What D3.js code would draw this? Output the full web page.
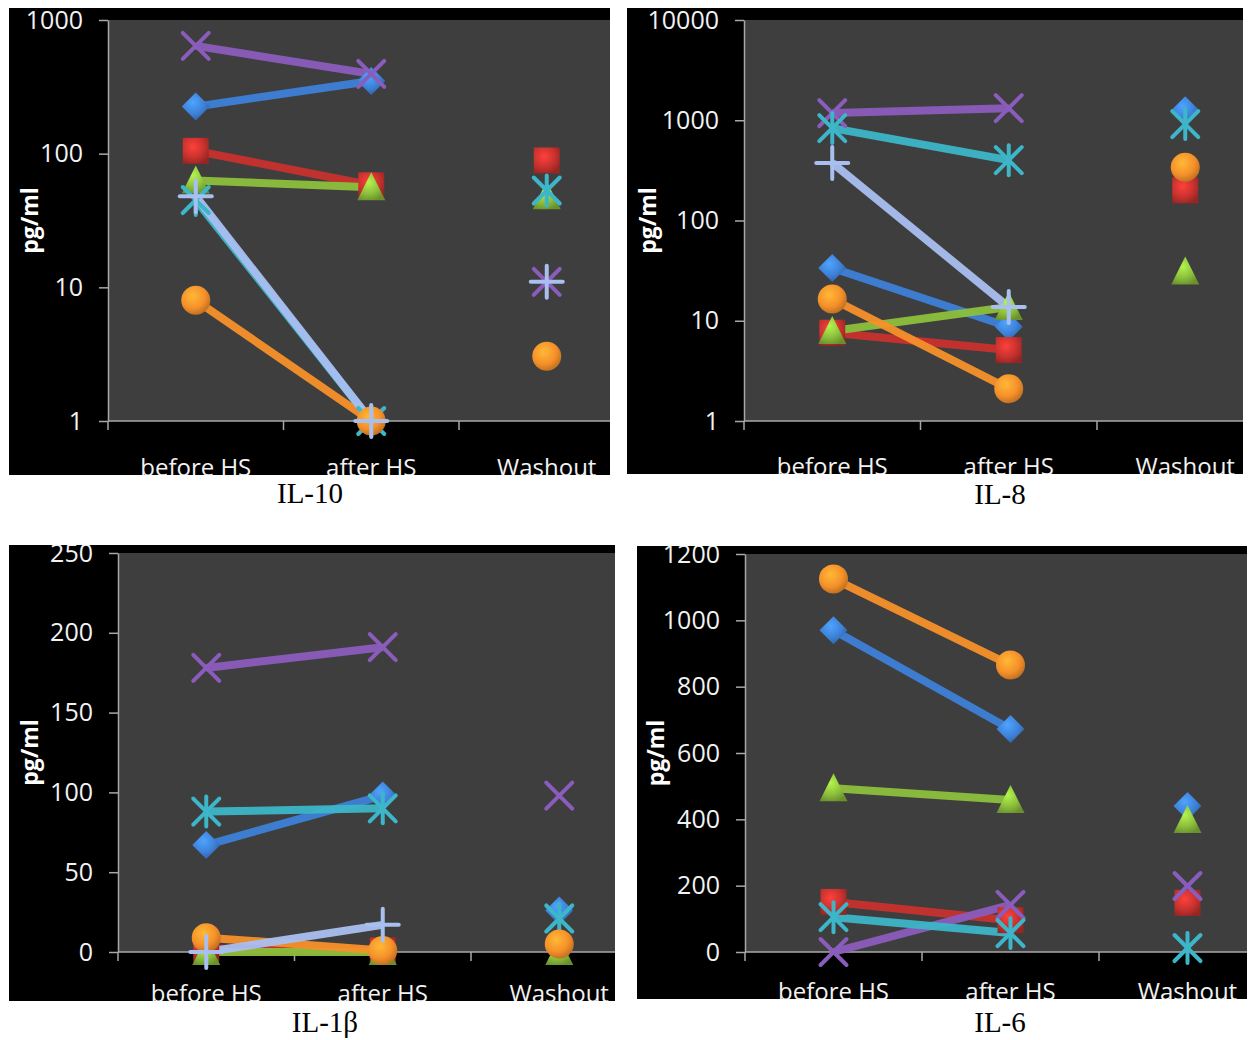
<!DOCTYPE html>
<html><head><meta charset="utf-8">
<script src="https://cdn.jsdelivr.net/npm/d3@7"></script>
<style>body{margin:0;background:#fff}svg{display:block}</style>
</head><body>
<svg id="c" width="1250" height="1040"></svg>
<script>
// ---------- data ----------
const categories = ["before HS", "after HS", "Washout"];
const markerTypes = ["diamond", "square", "triangle", "x", "star", "circle", "plus"];
const seriesColors = ["#3d80d6", "#c8322e", "#8cbf3c", "#8a5cbc", "#3cb6c8", "#f5902a", "#a9bff0"];

// series order: diamond, square, triangle, x, star, circle, plus
const il10Before  = [225, 105, 63, 640, 45, 8, 48];
const il10After   = [350, 58, 56, 395, 1, 1, 1];
const il10Washout = [null, 89, 48, 11, 53, 3.05, 11];
const il10Ticks   = [1, 10, 100, 1000];

const il8Before  = [33.6, 7.6, 7.9, 1180, 835, 16.5, 375];
const il8After   = [8.7, 5.1, 13.7, 1320, 400, 2.1, 13.7];
const il8Washout = [1260, 200, 31, null, 915, 340, null];
const il8Ticks   = [1, 10, 100, 1000, 10000];

const il1bBefore  = [67, 2, 0, 178, 88, 9, 0];
const il1bAfter   = [98, 1, 0, 191, 90, 1, 17];
const il1bWashout = [26, null, 0, 98, 21, 5, null];
const il1bTicks   = [0, 50, 100, 150, 200, 250];

const il6Before  = [970, 151, 494, 0, 105, 1125, null];
const il6After   = [672, 96, 458, 142, 57, 865, null];
const il6Washout = [440, 148, 398, 199, 12, null, null];
const il6Ticks   = [0, 200, 400, 600, 800, 1000, 1200];

const captions = ["IL-10", "IL-8", "IL-1β", "IL-6"];
const yTitle = "pg/ml";

// ---------- layout ----------
const panels = [
  {cap: captions[0], before: il10Before, after: il10After, washout: il10Washout, ticks: il10Ticks, log: true,
   box: [9, 8, 610, 475], plot: [108, 20, 610, 421], band: 175.5, titleX: 30, capX: 310, capY: 503},
  {cap: captions[1], before: il8Before, after: il8After, washout: il8Washout, ticks: il8Ticks, log: true,
   box: [627, 8, 1243, 474], plot: [744, 20, 1243, 421], band: 176.5, titleX: 648, capX: 1000, capY: 504},
  {cap: captions[2], before: il1bBefore, after: il1bAfter, washout: il1bWashout, ticks: il1bTicks, log: false,
   box: [9, 545, 615, 1001], plot: [118, 553, 615, 952], band: 176.5, titleX: 30, capX: 325, capY: 1032},
  {cap: captions[3], before: il6Before, after: il6After, washout: il6Washout, ticks: il6Ticks, log: false,
   box: [637, 546, 1247, 999], plot: [745, 554, 1247, 952], band: 177, titleX: 656, capX: 1000, capY: 1032}
];

const svg = d3.select("#c");
const defs = svg.append("defs");

// glossy gradients per colour
seriesColors.forEach((c, i) => {
  const g = defs.append("radialGradient").attr("id", "grad" + i)
    .attr("cx", "40%").attr("cy", "35%").attr("r", "70%");
  g.append("stop").attr("offset", "0%").attr("stop-color", d3.color(c).brighter(0.7));
  g.append("stop").attr("offset", "60%").attr("stop-color", c);
  g.append("stop").attr("offset", "100%").attr("stop-color", d3.color(c).darker(0.8));
});

function drawMarker(g, type, i, cx, cy) {
  const c = seriesColors[i];
  const m = g.append("g").attr("transform", `translate(${cx},${cy})`);
  const fill = `url(#grad${i})`;
  if (type === "diamond") {
    m.append("path").attr("d", "M0,-14L14,0L0,14L-14,0Z").attr("fill", fill);
  } else if (type === "square") {
    m.append("rect").attr("x", -13).attr("y", -13).attr("width", 26).attr("height", 26).attr("fill", fill);
  } else if (type === "triangle") {
    m.append("path").attr("d", "M0,-15L14,13L-14,13Z").attr("fill", fill);
  } else if (type === "circle") {
    m.append("circle").attr("r", 14.5).attr("fill", fill);
  } else {
    const s = 13;
    const lines = [];
    if (type === "x" || type === "star") lines.push([-s, -s, s, s], [-s, s, s, -s]);
    if (type === "star") lines.push([0, -s - 2, 0, s + 2]);
    if (type === "plus") lines.push([0, -s - 3, 0, s + 3], [-s - 3, 0, s + 3, 0]);
    lines.forEach(l => m.append("line").attr("x1", l[0]).attr("y1", l[1]).attr("x2", l[2]).attr("y2", l[3])
      .attr("stroke", c).attr("stroke-width", 4).attr("stroke-linecap", "round"));
  }
}

panels.forEach((p, pi) => {
  const [bx0, by0, bx1, by1] = p.box;
  const [px0, py0, px1, py1] = p.plot;
  const clipId = "clip" + pi;
  defs.append("clipPath").attr("id", clipId)
    .append("rect").attr("x", bx0).attr("y", by0).attr("width", bx1 - bx0).attr("height", by1 - by0);

  const g = svg.append("g").attr("clip-path", `url(#${clipId})`);
  g.append("rect").attr("x", bx0).attr("y", by0).attr("width", bx1 - bx0).attr("height", by1 - by0).attr("fill", "#000");
  g.append("rect").attr("x", px0).attr("y", py0).attr("width", px1 - px0).attr("height", py1 - py0).attr("fill", "#3e3e3e");

  const x = d3.scaleBand().domain(categories).range([px0, px0 + p.band * 3]).padding(0);
  const y = p.log
    ? d3.scaleLog().domain([p.ticks[0], p.ticks[p.ticks.length - 1]]).range([py1, py0])
    : d3.scaleLinear().domain([p.ticks[0], p.ticks[p.ticks.length - 1]]).range([py1, py0]);
  const cx = c => x(c) + x.bandwidth() / 2;

  // y axis
  const ya = g.append("g").attr("transform", `translate(${px0},0)`)
    .call(d3.axisLeft(y).tickValues(p.ticks).tickFormat(d3.format("d")).tickSize(9).tickSizeOuter(0).tickPadding(16));
  ya.select(".domain").attr("stroke", "#a8a8a8").attr("stroke-width", 1.5);
  ya.selectAll(".tick line").attr("stroke", "#a8a8a8").attr("stroke-width", 1.5);
  ya.selectAll(".tick text").attr("fill", "#f2f2f2").style("font-family", "'Open Sans'").style("font-size", "25px");

  // x axis
  g.append("line").attr("x1", px0).attr("x2", px1).attr("y1", py1).attr("y2", py1)
    .attr("stroke", "#a8a8a8").attr("stroke-width", 1.5);
  d3.range(0, 4).map(k => px0 + p.band * k).filter(v => v < px1).forEach(v => {
    g.append("line").attr("x1", v).attr("x2", v).attr("y1", py1).attr("y2", py1 + 9)
      .attr("stroke", "#a8a8a8").attr("stroke-width", 1.5);
  });
  g.selectAll(".cat").data(categories).join("text")
    .attr("x", d => cx(d)).attr("y", by1 + 1).attr("text-anchor", "middle")
    .attr("fill", "#f2f2f2").style("font-family", "'Open Sans'").style("font-size", "24px").text(d => d);

  // y title
  g.append("text").attr("transform", `translate(${p.titleX + 8},${(py0 + py1) / 2}) rotate(-90)`)
    .attr("text-anchor", "middle").attr("fill", "#fff").style("font-family", "'Open Sans'")
    .style("font-size", "23px").style("font-weight", "bold").text(yTitle);

  // series lines (before -> after) and markers
  const n = markerTypes.length;
  for (let i = 0; i < n; i++) {
    const vals = [p.before[i], p.after[i], p.washout[i]];
    const pts = categories.slice(0, 2).map((c, k) => [cx(c), vals[k]]).filter(d => d[1] !== null);
    if (pts.length === 2) {
      g.append("path").datum(pts)
        .attr("d", d3.line().x(d => d[0]).y(d => y(Math.max(d[1], p.log ? 1 : 0))))
        .attr("fill", "none").attr("stroke", seriesColors[i]).attr("stroke-width", 8).attr("stroke-opacity", 0.95);
    }
  }
  for (let i = 0; i < n; i++) {
    const vals = [p.before[i], p.after[i], p.washout[i]];
    categories.forEach((c, k) => {
      if (vals[k] === null) return;
      drawMarker(g, markerTypes[i], i, cx(c), y(Math.max(vals[k], p.log ? 1 : 0)));
    });
  }

  // caption
  svg.append("text").attr("x", p.capX).attr("y", p.capY).attr("text-anchor", "middle")
    .attr("fill", "#000").style("font-family", "'Liberation Serif'").style("font-size", "29px").text(p.cap);
});
</script>
</body></html>
